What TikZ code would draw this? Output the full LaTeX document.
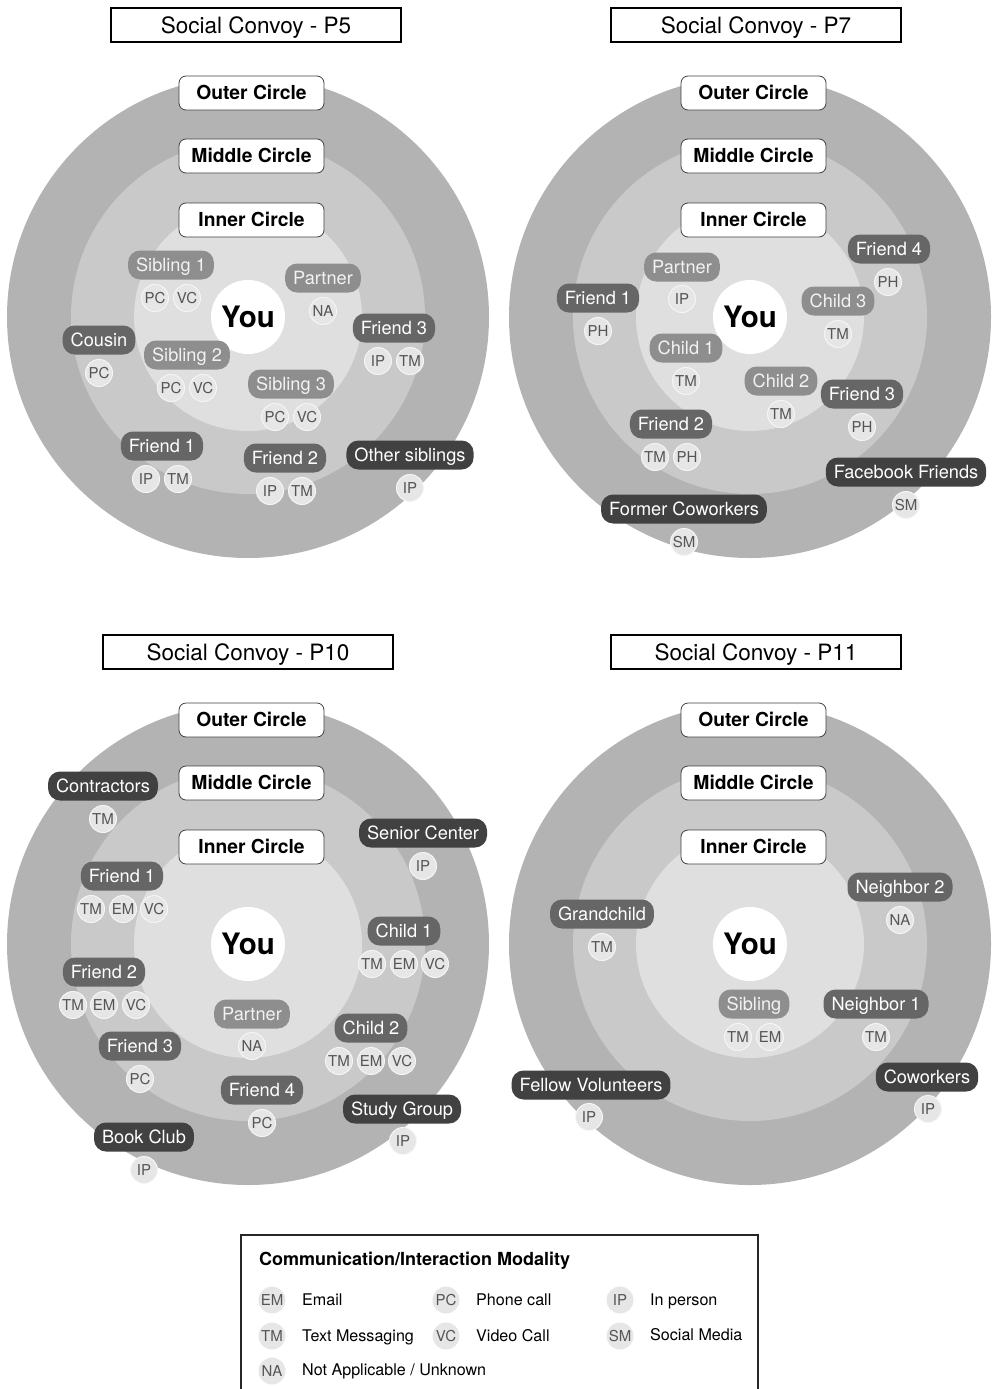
\documentclass[tikz,border=0pt]{standalone}
\usepackage{fontspec}
\setmainfont{TeX Gyre Heros}
\definecolor{ringO}{HTML}{B3B3B3}
\definecolor{ringM}{HTML}{C9C9C9}
\definecolor{ringI}{HTML}{DFDFDF}
\definecolor{pillI}{HTML}{8E8E8E}
\definecolor{pillM}{HTML}{666666}
\definecolor{pillO}{HTML}{414141}
\definecolor{modF}{HTML}{E6E6E6}
\definecolor{modT}{HTML}{555555}
\tikzset{
  titlebox/.style={text height=16.2pt, text depth=0pt, draw=black, line width=1.6pt, minimum width=290pt, minimum height=34pt, inner sep=0pt, font=\fontsize{22.5}{24}\selectfont},
  lab/.style={text height=13.9pt, text depth=0pt, draw=black!75, line width=0.8pt, fill=white, rounded corners=7pt, minimum width=145pt, minimum height=34pt, inner sep=0pt, font=\bfseries\fontsize{19.3}{21}\selectfont},
  pill/.style={text height=13.1pt, text depth=0pt, rounded corners=12pt, text=white, minimum height=29pt, inner xsep=8pt, inner ysep=0pt, font=\fontsize{18.2}{20}\selectfont},
  pin/.style={pill, fill=pillI, text=white!95!black},
  pmid/.style={pill, fill=pillM},
  pout/.style={pill, fill=pillO},
  mod/.style={text height=10.8pt, text depth=0pt, circle, fill=modF, draw=white!60!modF, line width=1pt, minimum size=27pt, inner sep=0pt, text=modT, font=\fontsize{15}{16}\selectfont},
  lmod/.style={text height=10.8pt, text depth=0pt, circle, fill=modF, minimum size=27pt, inner sep=0pt, text=modT, font=\fontsize{15}{16}\selectfont},
  ltxt/.style={text height=11.6pt, text depth=0pt, anchor=west, inner sep=0pt, font=\fontsize{16.1}{18}\selectfont},
  you/.style={text height=21.2pt, text depth=0pt, circle, fill=white, minimum size=74pt, inner sep=0pt, font=\bfseries\fontsize{29.5}{30}\selectfont}
}
\newcommand\rings[3]{%
  \fill[ringO] (#2,#3) circle (241pt);
  \fill[ringM] (#2,#3) circle (177pt);
  \fill[ringI] (#2,#3) circle (114pt);
  \node[you] (#1you) at (#2,#3) {You};
  \node[lab] (#1outer) at ({#2+3.5},{#3-224}) {Outer Circle};
  \node[lab] (#1middle) at ({#2+3.5},{#3-161}) {Middle Circle};
  \node[lab] (#1inner) at ({#2+3.5},{#3-97}) {Inner Circle};
}
\begin{document}
\begin{tikzpicture}[x=1pt,y=-1pt]
\useasboundingbox (0,0) rectangle (992,1389);
% titles
\node[titlebox] (t5) at (256,25) {Social Convoy - P5};
\node[titlebox] (t7) at (756,25) {Social Convoy - P7};
\node[titlebox] (t10) at (248,652) {Social Convoy - P10};
\node[titlebox] (t11) at (756,652) {Social Convoy - P11};

% ---------------- P5
\rings{a}{248}{317}
\node[pin] (a1) at (171,265) {Sibling 1};
\node[mod] (a1a) at (155,298) {PC};
\node[mod] (a1b) at (187,298) {VC};
\node[pin] (a2) at (323,278) {Partner};
\node[mod] (a2a) at (323,311) {NA};
\node[pmid] (a3) at (99,340) {Cousin};
\node[mod] (a3a) at (99,373) {PC};
\node[pin] (a4) at (187,355) {Sibling 2};
\node[mod] (a4a) at (171,388) {PC};
\node[mod] (a4b) at (203,388) {VC};
\node[pmid] (a5) at (394,328) {Friend 3};
\node[mod] (a5a) at (378,361) {IP};
\node[mod] (a5b) at (410,361) {TM};
\node[pin] (a6) at (291,384) {Sibling 3};
\node[mod] (a6a) at (275,417) {PC};
\node[mod] (a6b) at (307,417) {VC};
\node[pmid] (a7) at (162,446) {Friend 1};
\node[mod] (a7a) at (146,479) {IP};
\node[mod] (a7b) at (178,479) {TM};
\node[pmid] (a8) at (285,458) {Friend 2};
\node[mod] (a8a) at (270,491) {IP};
\node[mod] (a8b) at (302,491) {TM};
\node[pout] (a9) at (410,455) {Other siblings};
\node[mod] (a9a) at (410,488) {IP};

% ---------------- P7
\rings{b}{750}{317}
\node[pmid] (b1) at (889,249) {Friend 4};
\node[mod] (b1a) at (888,282) {PH};
\node[pin] (b2) at (682,267) {Partner};
\node[mod] (b2a) at (682,299) {IP};
\node[pmid] (b3) at (598,298) {Friend 1};
\node[mod] (b3a) at (598,331) {PH};
\node[pin] (b4) at (838,301) {Child 3};
\node[mod] (b4a) at (838,334) {TM};
\node[pin] (b5) at (686,348) {Child 1};
\node[mod] (b5a) at (686,381) {TM};
\node[pin] (b6) at (781,381) {Child 2};
\node[mod] (b6a) at (781,414) {TM};
\node[pmid] (b7) at (862,394) {Friend 3};
\node[mod] (b7a) at (862,427) {PH};
\node[pmid] (b8) at (671,424) {Friend 2};
\node[mod] (b8a) at (655,457) {TM};
\node[mod] (b8b) at (687,457) {PH};
\node[pout] (b9) at (906,472) {Facebook Friends};
\node[mod] (b9a) at (906,505) {SM};
\node[pout] (b10) at (684,509) {Former Coworkers};
\node[mod] (b10a) at (684,542) {SM};

% ---------------- P10
\rings{c}{248}{944}
\node[pout] (c1) at (103,786) {Contractors};
\node[mod] (c1a) at (103,819) {TM};
\node[pout] (c2) at (423,833) {Senior Center};
\node[mod] (c2a) at (423,866) {IP};
\node[pmid] (c3) at (122,876) {Friend 1};
\node[mod] (c3a) at (91,909) {TM};
\node[mod] (c3b) at (123,909) {EM};
\node[mod] (c3c) at (154,909) {VC};
\node[pmid] (c4) at (404,931) {Child 1};
\node[mod] (c4a) at (372,964) {TM};
\node[mod] (c4b) at (404,964) {EM};
\node[mod] (c4c) at (435,964) {VC};
\node[pmid] (c5) at (104,972) {Friend 2};
\node[mod] (c5a) at (73,1005) {TM};
\node[mod] (c5b) at (104,1005) {EM};
\node[mod] (c5c) at (136,1005) {VC};
\node[pin] (c6) at (252,1014) {Partner};
\node[mod] (c6a) at (252,1046) {NA};
\node[pmid] (c7) at (140,1046) {Friend 3};
\node[mod] (c7a) at (140,1079) {PC};
\node[pmid] (c8) at (371,1028) {Child 2};
\node[mod] (c8a) at (339,1061) {TM};
\node[mod] (c8b) at (371,1061) {EM};
\node[mod] (c8c) at (402,1061) {VC};
\node[pmid] (c9) at (262,1090) {Friend 4};
\node[mod] (c9a) at (262,1123) {PC};
\node[pout] (c10) at (402,1109) {Study Group};
\node[mod] (c10a) at (403,1141) {IP};
\node[pout] (c11) at (144,1137) {Book Club};
\node[mod] (c11a) at (144,1170) {IP};

% ---------------- P11
\rings{d}{750}{944}
\node[pmid] (d1) at (900,887) {Neighbor 2};
\node[mod] (d1a) at (900,920) {NA};
\node[pmid] (d2) at (602,914) {Grandchild};
\node[mod] (d2a) at (602,947) {TM};
\node[pin] (d3) at (754,1004) {Sibling};
\node[mod] (d3a) at (738,1037) {TM};
\node[mod] (d3b) at (770,1037) {EM};
\node[pmid] (d4) at (876,1004) {Neighbor 1};
\node[mod] (d4a) at (876,1037) {TM};
\node[pout] (d5) at (591,1085) {Fellow Volunteers};
\node[mod] (d5a) at (589,1117) {IP};
\node[pout] (d6) at (927,1077) {Coworkers};
\node[mod] (d6a) at (928,1109) {IP};

% ---------------- Legend
\draw[line width=1.4pt, black!85] (241,1389) |- (758,1235) -- (758,1389);
\node[text height=13pt, text depth=0pt, anchor=west, inner sep=0pt, font=\bfseries\fontsize{18}{19}\selectfont] (lt) at (259,1259) {Communication/Interaction Modality};
\node[lmod] (l1) at (272,1300) {EM};
\node[ltxt] (l1t) at (302,1300) {Email};
\node[lmod] (l2) at (446,1300) {PC};
\node[ltxt] (l2t) at (476,1300) {Phone call};
\node[lmod] (l3) at (620,1300) {IP};
\node[ltxt] (l3t) at (650,1300) {In person};
\node[lmod] (l4) at (272,1336) {TM};
\node[ltxt] (l4t) at (302,1336) {Text Messaging};
\node[lmod] (l5) at (446,1336) {VC};
\node[ltxt] (l5t) at (476,1336) {Video Call};
\node[lmod] (l6) at (620,1336) {SM};
\node[ltxt] (l6t) at (650,1335) {Social Media};
\node[lmod] (l7) at (272,1371) {NA};
\node[ltxt] (l7t) at (302,1370) {Not Applicable / Unknown};
\end{tikzpicture}
\end{document}
